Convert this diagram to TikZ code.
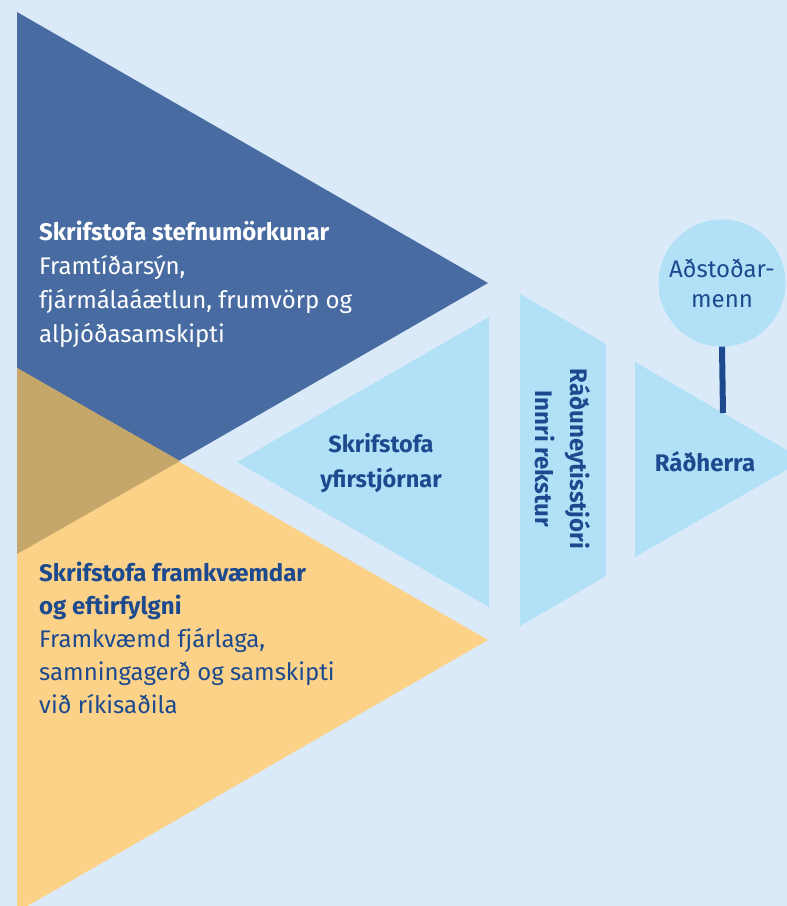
\documentclass[tikz,border=0pt]{standalone}
\usepackage{fontspec}
\setmainfont{Fira Sans}
\usetikzlibrary{positioning}
\definecolor{bgblue}{HTML}{DAEAF8}
\definecolor{darkblue}{HTML}{486CA1}
\definecolor{sand}{HTML}{FCD289}
\definecolor{overlap}{HTML}{C6A76B}
\definecolor{paleblue}{HTML}{B2E1F7}
\definecolor{ink}{HTML}{1D4A8E}
\tikzset{
  blocktext/.style={anchor=north west, inner sep=0pt, align=left,
    font=\fontsize{24}{34}\selectfont},
  boxtext/.style={inner sep=0pt, align=center, text=ink,
    font=\fontsize{23.5}{35}\selectfont\bfseries},
}
\begin{document}
\begin{tikzpicture}[x=1pt, y=-1pt]
    \fill [bgblue] (0,0) rectangle (787,906);
    \clip (0,0) rectangle (787,906);
    % big triangles
    \coordinate (A) at (17,12);
    \coordinate (B) at (488,283);
    \coordinate (C) at (17,554);
    \coordinate (D) at (17,368);
    \coordinate (E) at (488,640);
    \coordinate (F) at (17,912);
    \coordinate (G) at (180,461);
    \fill [darkblue] (A) -- (B) -- (C) -- cycle;
    \fill [sand] (D) -- (E) -- (F) -- cycle;
    \fill [overlap] (D) -- (G) -- (C) -- cycle;
    % small shapes
    \coordinate (H) at (237,462);
    \coordinate (I) at (489,317);
    \coordinate (J) at (489,607);
    \fill [paleblue] (H) -- (I) -- (J) -- cycle;
    \coordinate (K) at (520,294);
    \coordinate (L) at (606,344);
    \coordinate (M) at (606,576);
    \coordinate (N) at (520,626);
    \fill [paleblue] (K) -- (L) -- (M) -- (N) -- cycle;
    \coordinate (P) at (635,362);
    \coordinate (Q) at (804,460);
    \coordinate (R) at (635,557);
    \fill [paleblue] (P) -- (Q) -- (R) -- cycle;
    \coordinate (S) at (723,413);
    % texts
    \node [blocktext, text=white] (policy) at (39,221)
        {\textbf{Skrifstofa stefnumörkunar}\\Framtíðarsýn,\\fjármálaáætlun, frumvörp og\\alþjóðasamskipti};
    \node [blocktext, text=ink, font=\fontsize{24}{33}\selectfont] (exec) at (39,562)
        {\textbf{Skrifstofa framkvæmdar}\\\textbf{og eftirfylgni}\\Framkvæmd fjárlaga,\\samningagerð og samskipti\\við ríkisaðila};
    \node [boxtext] (office) at (381,463) {Skrifstofa\\yfirstjórnar};
    \node [boxtext, font=\fontsize{24}{35}\selectfont\bfseries, rotate=-90] (perm) at (563,459) {Ráðuneytisstjóri\\Innri rekstur};
    \node [boxtext, font=\fontsize{24}{30}\selectfont\bfseries] (minister) at (705,462) {Ráðherra};
    \node [circle, fill=paleblue, minimum size=127pt, inner sep=0pt, align=center, text=ink,
        font=\fontsize{24}{30}\selectfont] (asst) at (722,283) {Aðstoðar-\\menn};
    \draw [ink, line width=6pt] (asst.south) -- (S);
\end{tikzpicture}
\end{document}
